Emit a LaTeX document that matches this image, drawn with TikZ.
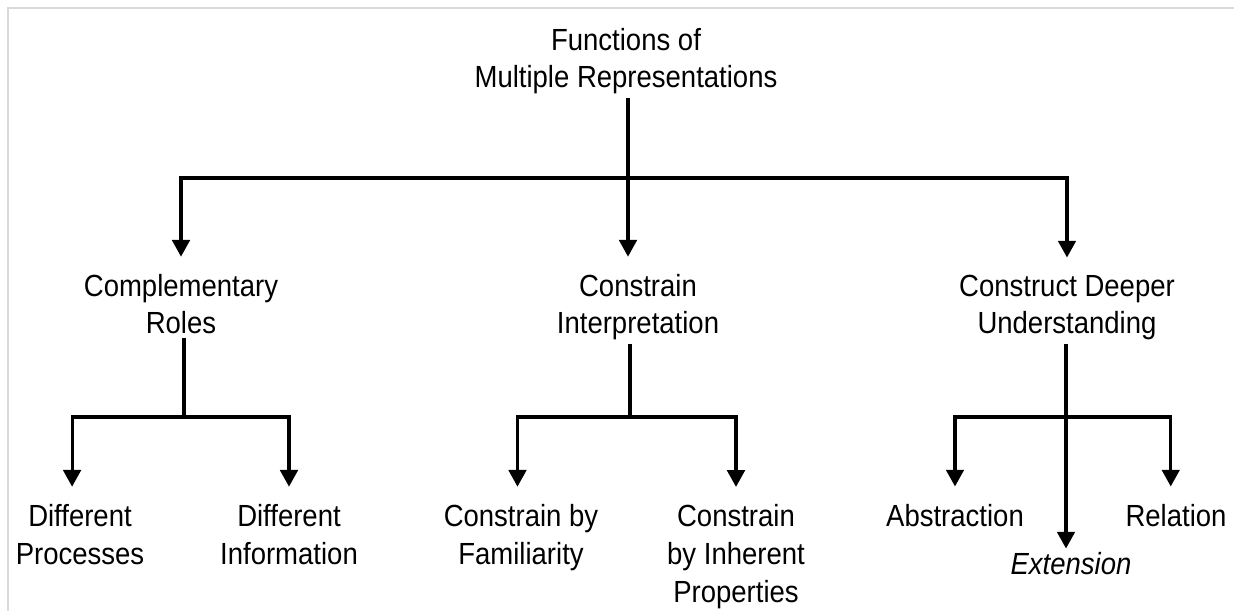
\documentclass[tikz,border=0pt]{standalone}
\usepackage{fontspec}
\setmainfont{Liberation Sans}[FakeStretch=0.9]
\usetikzlibrary{arrows.meta}
\tikzset{
every picture/.style={line width=1.8pt}
}
\tikzset{
  term/.style={align=center, inner sep=1pt, anchor=base, font=\fontsize{17.4}{21.5}\selectfont},
  branch/.style={-{Triangle[width=10pt,length=9.5pt]}, shorten >=8pt}
}

\begin{document}
\begin{tikzpicture}[x=0.02cm, y=-0.02cm]
    \useasboundingbox (0,0) rectangle (1234,611);
    \draw[black!15, line width=0.8pt] (8,611) -- (8,8) -- (1234,8);
    % texts (base = last line)
    \node[term] (fmr) at (626,88) {Functions of\\Multiple Representations};
    \node[term] (cr) at (181,334) {Complementary\\Roles};
    \node[term] (ci) at (638,334) {Constrain\\Interpretation};
    \node[term] (cd) at (1067,334) {Construct Deeper\\Understanding};
    \node[term] (dp) at (80,564) {Different\\Processes};
    \node[term] (di) at (289,564) {Different\\Information};
    \node[term] (cf) at (521,564) {Constrain by\\Familiarity};
    \node[term] (cp) at (736,602) {Constrain\\by Inherent\\Properties};
    \node[term] (ab) at (955,526) {Abstraction};
    \node[term] (re) at (1176,526) {Relation};
    \node[term, font=\fontsize{17.4}{21.5}\selectfont\itshape] (ex) at (1071,574) {Extension};
    % junctions
    \coordinate (fmrj) at (628,178);
    \coordinate (crj) at (184,417);
    \coordinate (cij) at (630,417);
    \coordinate (cdj) at (1066,417);
    % links
    \draw (fmr.south -| fmrj) -- (fmrj);
    \draw[branch] (fmrj) -| (cr);
    \draw[branch] (fmrj) -- (fmrj |- ci.north);
    \draw[branch] (fmrj) -| (cd);
    \draw (cr.south -| crj) -- (crj);
    \draw[branch] (crj) -| ([xshift=-4.5pt]dp.north);
    \draw[branch] (crj) -| (di);
    \draw (ci.south -| cij) -- (cij);
    \draw[branch] (cij) -| ([xshift=-2pt]cf.north);
    \draw[branch] (cij) -| (cp);
    \draw[branch, shorten >=0pt] (cd.south -| cdj) -- (cdj |- ex.north);
    \draw[branch] (cdj) -| (ab);
    \draw[branch] (cdj) -| ([xshift=-3pt]re.north);
\end{tikzpicture}
\end{document}
